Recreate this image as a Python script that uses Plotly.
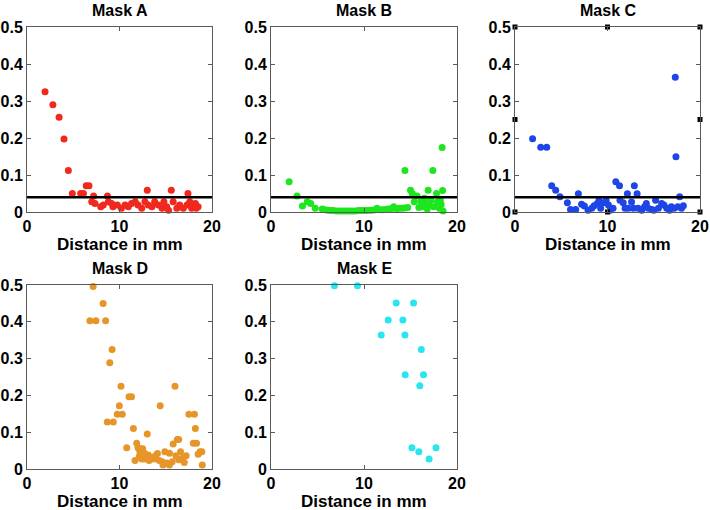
import plotly.graph_objects as go

# ---------------- data ----------------
a_x = [1.95, 2.8, 3.47, 4.0, 4.47, 4.9, 5.8, 6.1, 6.4, 6.7, 7.0, 7.2, 7.35, 7.97, 8.25, 8.7, 8.8, 9.15, 9.3,
       9.76, 10.2, 10.6, 10.95, 11.3, 11.7, 12.0, 12.4, 12.75, 13.0, 13.1, 13.5, 13.8, 14.2, 14.6, 14.8,
       15.1, 15.3, 15.6, 15.8, 16.2, 16.5, 16.9, 17.3, 17.4, 17.6, 17.8, 18.0, 18.2, 18.3, 18.5]
a_y = [0.325, 0.29, 0.256, 0.197, 0.112, 0.05, 0.05, 0.05, 0.071, 0.071, 0.028, 0.043, 0.023, 0.014, 0.019,
       0.043, 0.028, 0.023, 0.014, 0.019, 0.01, 0.019, 0.014, 0.023, 0.028, 0.019, 0.01, 0.028, 0.059, 0.019,
       0.014, 0.028, 0.019, 0.01, 0.028, 0.014, 0.005, 0.059, 0.028, 0.01, 0.019, 0.01, 0.019, 0.05, 0.028,
       0.01, 0.019, 0.023, 0.01, 0.014]

b_x = [1.95, 2.8, 3.38, 3.9, 4.27, 4.76,
       5.5, 5.8, 6.1, 6.4, 6.7, 7.0, 7.3, 7.6, 7.9, 8.2, 8.5, 8.8, 9.1, 9.4, 9.7, 10.0, 10.3, 10.6, 10.9,
       11.2, 11.4, 11.7, 12.0, 12.3, 12.6, 12.9, 13.2, 13.5, 13.8, 14.1, 14.4, 14.7,
       14.4, 15.0, 15.2, 15.4, 15.7, 15.9, 16.1, 16.3, 16.5, 16.6, 16.8, 16.9, 17.0, 17.2, 17.4, 17.5,
       17.8, 17.9, 18.1, 18.2, 18.3, 18.4, 18.45, 18.5]
b_y = [0.082, 0.043, 0.016, 0.028, 0.023, 0.01,
       0.008, 0.006, 0.005, 0.004, 0.004, 0.003, 0.003, 0.003, 0.003, 0.003, 0.003, 0.003, 0.003, 0.004,
       0.004, 0.004, 0.004, 0.005, 0.005, 0.006, 0.01, 0.006, 0.006, 0.007, 0.008, 0.009, 0.014, 0.009,
       0.01, 0.01, 0.011, 0.012,
       0.112, 0.059, 0.05, 0.028, 0.043, 0.012, 0.028, 0.014, 0.037, 0.023, 0.008, 0.059, 0.019, 0.032,
       0.112, 0.014, 0.05, 0.028, 0.01, 0.032, 0.02, 0.174, 0.058, 0.003]

c_x = [1.9, 2.78, 3.43, 3.97, 4.4, 4.86, 5.66, 6.0, 6.56, 6.85, 7.2, 7.5, 7.9, 8.3, 8.55, 8.9, 9.08, 9.26,
       9.55, 9.85, 10.1, 10.3, 10.6, 10.9, 11.3, 11.35, 11.7, 11.9, 12.15, 12.25, 12.6, 12.8, 12.9, 13.2,
       13.3, 13.7, 14.0, 14.2, 14.4, 14.8, 15.0, 15.2, 15.5, 15.85, 16.1, 16.4, 16.7, 16.9, 17.2, 17.33,
       17.4, 17.6, 17.8, 18.0, 18.2]
c_y = [0.198, 0.175, 0.175, 0.071, 0.059, 0.041, 0.025, 0.007, 0.007, 0.049, 0.021, 0.016, 0.005, 0.01,
       0.017, 0.023, 0.031, 0.01, 0.025, 0.031, 0.019, 0.005, 0.01, 0.082, 0.071, 0.032, 0.025, 0.01, 0.049,
       0.01, 0.027, 0.01, 0.071, 0.049, 0.01, 0.005, 0.014, 0.023, 0.01, 0.007, 0.005, 0.032, 0.01, 0.023,
       0.019, 0.01, 0.005, 0.014, 0.01, 0.364, 0.149, 0.014, 0.041, 0.01, 0.017]

d_x = [7.15, 6.8, 7.45, 8.23, 8.5, 9.2, 8.95, 8.68, 9.33, 10.16, 9.98, 9.76, 10.3, 11.03, 11.3, 11.5, 10.78,
       11.68, 13.0, 14.4, 16.0, 17.5, 18.1, 18.2, 17.98, 18.33, 15.8, 16.25, 16.4, 18.7, 18.5, 18.95,
       11.86, 12.0, 12.35, 12.5, 12.2, 12.14, 12.4, 12.7, 12.7, 13.1, 13.2, 13.45, 13.7, 13.9, 14.1, 14.3,
       14.6, 14.7, 14.9, 15.1, 15.4, 15.4, 15.7, 16.1, 16.4, 16.6, 16.8, 17.0, 17.2, 18.9]
d_y = [0.496, 0.403, 0.403, 0.45, 0.403, 0.325, 0.289, 0.128, 0.128, 0.225, 0.172, 0.149, 0.149, 0.196,
       0.196, 0.11, 0.058, 0.023, 0.095, 0.172, 0.225, 0.149, 0.149, 0.11, 0.07, 0.07, 0.068, 0.08, 0.08,
       0.047, 0.04, 0.011,
       0.07, 0.058, 0.055, 0.055, 0.047, 0.034, 0.027, 0.043, 0.027, 0.038, 0.023, 0.032, 0.027, 0.036,
       0.042, 0.023, 0.02, 0.011, 0.047, 0.016, 0.011, 0.043, 0.02, 0.036, 0.025, 0.047, 0.029, 0.018,
       0.036, 0.047]

e_x = [6.82, 9.3, 13.46, 15.33, 12.6, 14.18, 11.85, 14.4, 16.16, 14.43, 16.4, 16.0, 15.15, 15.9, 17.0, 17.74]
e_y = [0.498, 0.498, 0.451, 0.451, 0.405, 0.405, 0.364, 0.364, 0.325, 0.256, 0.256, 0.226, 0.058, 0.047,
       0.027, 0.058]

threshold = 0.04
handle_x = [0, 10, 20, 0, 20, 0, 10, 20]
handle_y = [0, 0, 0, 0.25, 0.25, 0.5, 0.5, 0.5]

titles = ["Mask A", "Mask B", "Mask C", "Mask D", "Mask E"]
colors = ["#f0281e", "#1ee61e", "#1e46e6", "#e69628", "#28e6f0"]
x_ticks = [0, 10, 20]
y_ticks = [0, 0.1, 0.2, 0.3, 0.4, 0.5]
y_tick_labels = ["0", "0.1", "0.2", "0.3", "0.4", "0.5"]
x_label = "Distance in mm"

# ---------------- layout geometry ----------------
W, H = 710, 510
cols = [(27, 212), (271, 457), (515, 700)]
rows = [(27, 212), (285, 469)]
panels = [(0, 0), (0, 1), (0, 2), (1, 0), (1, 1)]
data = [(a_x, a_y), (b_x, b_y), (c_x, c_y), (d_x, d_y), (e_x, e_y)]
with_line = [True, True, True, False, False]

fig = go.Figure()
font_fam = "Liberation Sans"
annotations = []

for i, (r, c) in enumerate(panels):
    n = i + 1
    xa = "x" if n == 1 else f"x{n}"
    ya = "y" if n == 1 else f"y{n}"
    x0, x1 = cols[c]
    t, b = rows[r]
    xd = [x0 / W, x1 / W]
    yd = [1 - b / H, 1 - t / H]
    axis_common = dict(showline=True, linecolor="#5a5a5a", linewidth=1, mirror="ticks",
                       ticks="inside", ticklen=4, tickcolor="#5a5a5a", showgrid=False, zeroline=False,
                       tickfont=dict(family=font_fam, size=16, color="black", weight="bold"),
                       fixedrange=True, automargin=False)
    fig.update_layout(**{
        ("xaxis" if n == 1 else f"xaxis{n}"): dict(domain=xd, range=[0, 20], tickvals=x_ticks,
                                                   anchor=ya, **axis_common),
        ("yaxis" if n == 1 else f"yaxis{n}"): dict(domain=yd, range=[0, 0.5], tickvals=y_ticks,
                                                   ticktext=y_tick_labels, anchor=xa,
                                                   **axis_common),
    })
    xs, ys = data[i]
    fig.add_trace(go.Scatter(x=xs, y=ys, mode="markers", xaxis=xa, yaxis=ya, cliponaxis=False,
                             marker=dict(color=colors[i], size=7, line=dict(width=0)),
                             showlegend=False))
    if with_line[i]:
        fig.add_trace(go.Scatter(x=[0, 20], y=[threshold, threshold], mode="lines", xaxis=xa, yaxis=ya,
                                 line=dict(color="black", width=2.5), showlegend=False))
    if n == 3:
        fig.add_trace(go.Scatter(x=handle_x, y=handle_y, mode="markers", xaxis=xa, yaxis=ya,
                                 cliponaxis=False,
                                 marker=dict(symbol="square", color="black", size=5), showlegend=False))
    xc = (x0 + x1) / 2 / W
    annotations.append(dict(text=f"<b>{titles[i]}</b>", x=xc, y=1 - (t - 17) / H, xref="paper",
                            yref="paper", showarrow=False, yanchor="middle", xanchor="center",
                            font=dict(family=font_fam, size=16, color="black")))
    annotations.append(dict(text=f"<b>{x_label}</b>", x=xc, y=1 - (b + 32) / H, xref="paper",
                            yref="paper", showarrow=False, yanchor="middle", xanchor="center",
                            font=dict(family=font_fam, size=17, color="black")))

fig.update_layout(width=W, height=H, margin=dict(l=0, r=0, t=0, b=0, pad=0, autoexpand=False),
                  showlegend=False, hovermode=False,
                  paper_bgcolor="white", plot_bgcolor="white", annotations=annotations)

fig.write_html("out.html", config={"displayModeBar": False, "staticPlot": True},
               post_script="document.body.style.margin='0px';document.body.style.overflow='hidden';")
